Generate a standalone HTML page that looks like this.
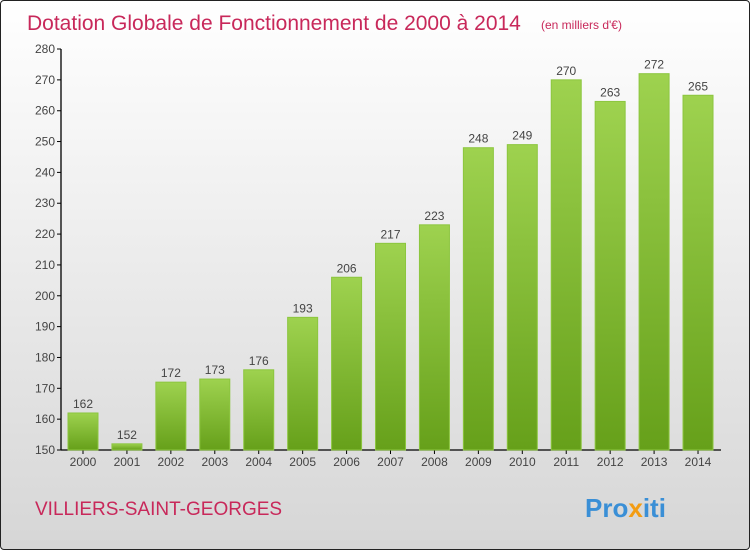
<!DOCTYPE html>
<html><head><meta charset="utf-8"><style>
body{margin:0;}
#wrap{position:relative;width:748px;height:548px;border:1px solid #222;border-radius:4px;background:linear-gradient(#ffffff,#d6d6d6);overflow:hidden;font-family:"Liberation Sans",sans-serif;}
</style></head><body>
<div id="wrap">
<svg id="chart" width="748" height="548">
<defs><linearGradient id="g" x1="0" y1="0" x2="0" y2="1"><stop offset="0" stop-color="#9ed24f"/><stop offset="1" stop-color="#66a01a"/></linearGradient></defs>
<text x="26" y="29" font-size="21" fill="#c8285a">Dotation Globale de Fonctionnement de 2000 à 2014</text>
<text x="540" y="28" font-size="12" fill="#c8285a">(en milliers d'€)</text>
<text x="34" y="514" font-size="19" fill="#c8285a">VILLIERS-SAINT-GEORGES</text>
<text x="584" y="516" font-size="26" font-weight="bold"><tspan fill="#3a8fd6">Pro</tspan><tspan fill="#f39c12">x</tspan><tspan fill="#3a8fd6">iti</tspan></text>
<g id="axes"></g><g id="bars"></g>
</svg></div>
<script>
const years=["2000","2001","2002","2003","2004","2005","2006","2007","2008","2009","2010","2011","2012","2013","2014"];
const values=[162,152,172,173,176,193,206,217,223,248,249,270,263,272,265];
const yTicks=[150,160,170,180,190,200,210,220,230,240,250,260,270,280];
const NS="http://www.w3.org/2000/svg";
const y=v=>449-(v-150)*(401/130);
const x=i=>82+i*43.93;
function mk(t,a,p){const e=document.createElementNS(NS,t);for(const k in a)e.setAttribute(k,a[k]);p.appendChild(e);return e;}
const ax=document.getElementById('axes'),bs=document.getElementById('bars');
const yl=mk('line',{x1:60,y1:y(280),x2:60,y2:y(150),stroke:'#000','stroke-width':1.3},ax);

const xl=mk('line',{x1:60,y1:y(150),x2:720,y2:y(150),stroke:'#000','stroke-width':1.3},ax);

yTicks.forEach(v=>{
 mk('line',{x1:56,x2:60,y1:y(v),y2:y(v),stroke:'#000'},ax);
 const t=mk('text',{x:54,y:y(v)+4,'text-anchor':'end','font-size':12,fill:'#444'},ax);t.textContent=v;
 
});
years.forEach((yr,i)=>{
 const v=values[i];
 mk('line',{x1:x(i),x2:x(i),y1:y(150),y2:y(150)+4,stroke:'#000'},ax);
 const t=mk('text',{x:x(i),y:465,'text-anchor':'middle','font-size':12,fill:'#444'},ax);t.textContent=yr;
 
 const r=mk('rect',{x:x(i)-15,y:y(v),width:30,height:y(150)-y(v),fill:'url(#g)',stroke:'#8cc63f','stroke-width':1},bs);
 
 const l=mk('text',{x:x(i),y:y(v)-5,'text-anchor':'middle','font-size':12,fill:'#444'},bs);l.textContent=v;
 
});
</script>
</body></html>
